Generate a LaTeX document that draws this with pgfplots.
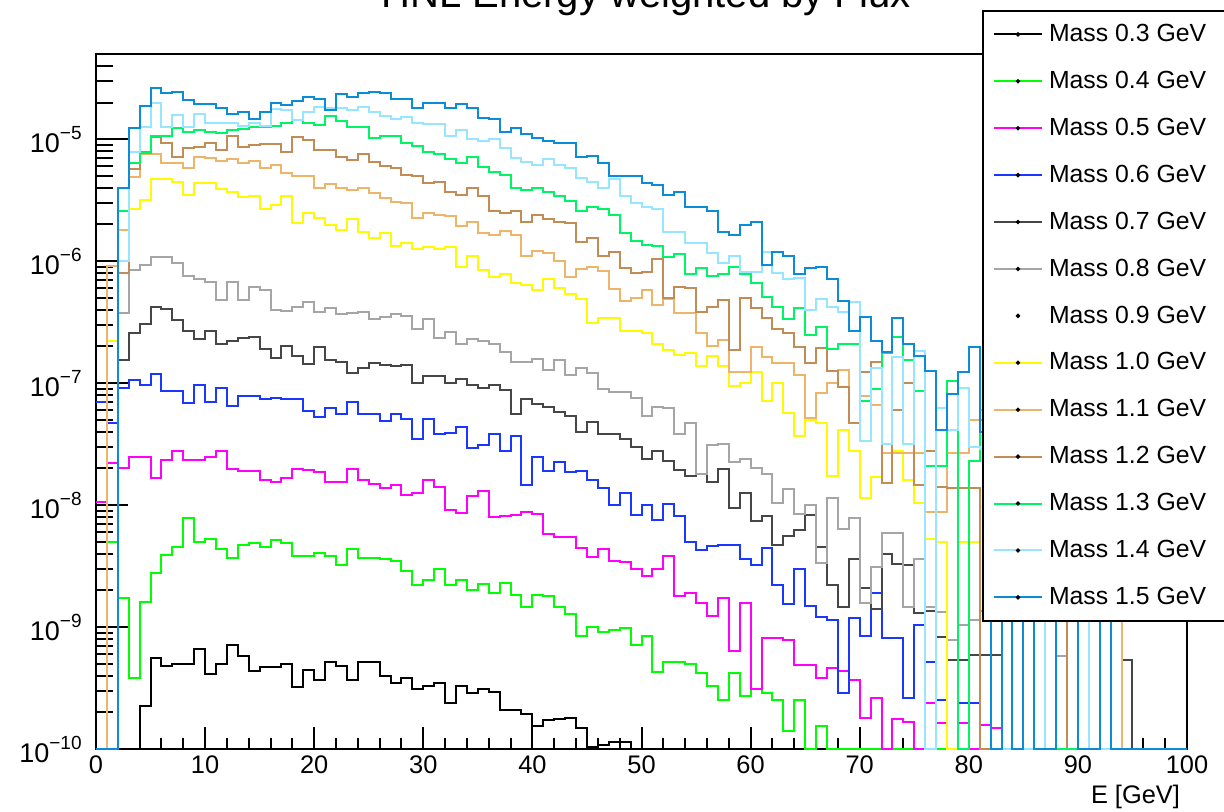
\documentclass[border=0pt]{standalone}
\usepackage{pgfplots}
\usepackage{pgfplotstable}
\pgfplotsset{compat=1.18}
\usepackage{fontspec}
\setmainfont{Liberation Sans}
\definecolor{c03}{RGB}{0,0,0}
\definecolor{c04}{RGB}{0,255,0}
\definecolor{c05}{RGB}{255,0,255}
\definecolor{c06}{RGB}{25,55,255}
\definecolor{c07}{RGB}{70,70,70}
\definecolor{c08}{RGB}{165,165,165}
\definecolor{c10}{RGB}{255,250,0}
\definecolor{c11}{RGB}{238,180,105}
\definecolor{c12}{RGB}{195,140,85}
\definecolor{c13}{RGB}{0,245,100}
\definecolor{c14}{RGB}{150,230,255}
\definecolor{c15}{RGB}{10,140,215}
\newcommand\tp[1]{10\raisebox{6.5pt}{\fontsize{9.5}{9.5}\selectfont −#1}}
\pgfplotstableread{
x s03 s04 s05 s06 s07 s08 s10 s11 s12 s13 s14 s15
0 1e-10 1e-10 1.06e-8 7.0e-8 1e-10 1e-10 1e-10 1e-10 1e-10 1e-10 1e-10 1e-10
1 1e-10 5.0e-9 2.2e-8 4.7e-8 1e-10 1e-10 2.2e-7 9.1e-7 1e-10 1e-10 1e-10 1e-10
2 1e-10 1.73e-9 2.0e-8 9.1e-8 1.55e-7 3.75e-7 1.8e-6 1.8e-6 8.0e-7 2.6e-6 1.0e-6 4.0e-6
3 1e-10 3.8e-10 2.5e-8 1.06e-7 2.6e-7 8.4e-7 2.7e-6 4.9e-6 5.7e-6 6.4e-6 7.8e-6 1.23e-5
4 2.25e-10 1.6e-9 2.5e-8 9.6e-8 3.05e-7 9.3e-7 3.15e-6 7.5e-6 7.8e-6 7.7e-6 1.25e-5 1.86e-5
5 5.6e-10 2.8e-9 1.67e-8 1.18e-7 4.2e-7 1.08e-6 4.7e-6 7.5e-6 1.04e-5 1.06e-5 1.97e-5 2.62e-5
6 4.8e-10 3.9e-9 2.35e-8 8.6e-8 4.05e-7 1.08e-6 4.7e-6 6.4e-6 9.3e-6 1.06e-5 1.25e-5 2.38e-5
7 5.0e-10 4.5e-9 2.8e-8 8.6e-8 3.3e-7 9.6e-7 4.45e-6 6.4e-6 7.1e-6 1.23e-5 1.57e-5 2.43e-5
8 5.0e-10 7.8e-9 2.35e-8 6.9e-8 2.7e-7 7.6e-7 3.5e-6 5.8e-6 8.4e-6 1.14e-5 1.25e-5 2.09e-5
9 6.6e-10 5.0e-9 2.35e-8 9.6e-8 2.3e-7 7.1e-7 4.4e-6 7.1e-6 8.6e-6 1.19e-5 1.6e-5 1.94e-5
10 4.1e-10 5.3e-9 2.5e-8 7.0e-8 2.7e-7 6.7e-7 4.4e-6 7.0e-6 9.3e-6 1.14e-5 1.35e-5 1.94e-5
11 5.0e-10 4.4e-9 2.8e-8 9.1e-8 2.1e-7 4.8e-7 3.9e-6 6.6e-6 8.1e-6 1.12e-5 1.35e-5 1.8e-5
12 7.1e-10 3.7e-9 1.97e-8 6.5e-8 2.2e-7 6.7e-7 3.7e-6 6.9e-6 1.06e-5 1.19e-5 1.37e-5 1.6e-5
13 5.8e-10 4.7e-9 1.9e-8 7.8e-8 2.35e-7 4.8e-7 3.35e-6 6.4e-6 8.6e-6 1.21e-5 1.28e-5 1.66e-5
14 4.35e-10 4.9e-9 1.9e-8 7.8e-8 2.4e-7 6.1e-7 3.4e-6 6.6e-6 8.9e-6 1.25e-5 1.35e-5 1.46e-5
15 4.7e-10 4.5e-9 1.6e-8 7.4e-8 1.9e-7 5.8e-7 2.7e-6 5.8e-6 9.1e-6 1.25e-5 1.28e-5 1.66e-5
16 4.7e-10 5.2e-9 1.55e-8 7.5e-8 1.6e-7 4.0e-7 2.9e-6 6.1e-6 9.1e-6 1.28e-5 1.76e-5 1.97e-5
17 5.0e-10 4.9e-9 1.67e-8 7.4e-8 2.0e-7 3.9e-7 3.4e-6 5.3e-6 7.8e-6 1.35e-5 1.73e-5 1.9e-5
18 3.2e-10 3.8e-9 1.97e-8 7.4e-8 1.67e-7 4.2e-7 2.05e-6 5.0e-6 1.04e-5 1.43e-5 1.43e-5 2.05e-5
19 4.45e-10 3.8e-9 1.93e-8 5.9e-8 1.43e-7 4.6e-7 2.5e-6 5.0e-6 9.8e-6 1.37e-5 1.66e-5 2.21e-5
20 3.7e-10 4.05e-9 1.86e-8 5.3e-8 1.97e-7 3.8e-7 2.25e-6 4.0e-6 8.1e-6 1.3e-5 1.83e-5 2.13e-5
21 5.2e-10 3.8e-9 1.55e-8 6.2e-8 1.55e-7 4.1e-7 1.97e-6 4.3e-6 8.1e-6 1.54e-5 1.8e-5 1.73e-5
22 4.8e-10 3.2e-9 1.55e-8 5.6e-8 1.5e-7 3.7e-7 1.8e-6 4.0e-6 7.1e-6 1.4e-5 1.8e-5 2.34e-5
23 3.7e-10 4.4e-9 1.97e-8 7.0e-8 1.2e-7 3.75e-7 2.2e-6 3.8e-6 6.7e-6 1.25e-5 1.73e-5 2.21e-5
24 5.2e-10 3.7e-9 1.6e-8 5.6e-8 1.33e-7 3.8e-7 1.73e-6 4.0e-6 7.5e-6 1.25e-5 1.83e-5 2.38e-5
25 5.2e-10 3.7e-9 1.5e-8 5.6e-8 1.46e-7 3.35e-7 1.55e-6 3.6e-6 6.5e-6 1.02e-5 1.66e-5 2.43e-5
26 4.0e-10 3.6e-9 1.39e-8 4.9e-8 1.4e-7 3.5e-7 1.7e-6 3.3e-6 6.0e-6 1.06e-5 1.54e-5 2.38e-5
27 3.5e-10 3.5e-9 1.46e-8 5.6e-8 1.38e-7 3.7e-7 1.33e-6 3.05e-6 5.8e-6 1.06e-5 1.46e-5 2.13e-5
28 3.8e-10 2.9e-9 1.2e-8 5.1e-8 1.4e-7 3.55e-7 1.41e-6 3.0e-6 5.1e-6 9.3e-6 1.51e-5 2.13e-5
29 3.1e-10 2.2e-9 1.25e-8 3.5e-8 1.0e-7 2.8e-7 1.25e-6 2.25e-6 5.0e-6 8.8e-6 1.35e-5 1.8e-5
30 3.3e-10 2.45e-9 1.6e-8 5.1e-8 1.14e-7 3.35e-7 1.3e-6 2.5e-6 4.4e-6 7.8e-6 1.33e-5 1.97e-5
31 3.5e-10 3.0e-9 1.41e-8 3.8e-8 1.14e-7 2.35e-7 1.25e-6 2.4e-6 4.5e-6 7.5e-6 1.33e-5 1.97e-5
32 2.4e-10 2.2e-9 9.1e-9 3.9e-8 1.0e-7 2.65e-7 1.3e-6 2.35e-6 3.7e-6 6.9e-6 1.06e-5 1.8e-5
33 3.3e-10 2.45e-9 8.6e-9 4.4e-8 1.08e-7 2.1e-7 8.9e-7 1.93e-6 3.5e-6 6.4e-6 1.19e-5 1.94e-5
34 2.9e-10 2.0e-9 1.18e-8 2.95e-8 9.6e-8 2.3e-7 1.1e-6 2.1e-6 4.0e-6 7.1e-6 1.0e-5 1.8e-5
35 3.1e-10 2.25e-9 1.3e-8 3.1e-8 9.1e-8 2.2e-7 8.4e-7 1.7e-6 3.4e-6 5.9e-6 9.6e-6 1.49e-5
36 2.95e-10 1.9e-9 8.0e-9 3.8e-8 9.6e-8 2.1e-7 7.4e-7 1.63e-6 2.6e-6 5.4e-6 1.0e-5 1.46e-5
37 2.1e-10 2.3e-9 8.1e-9 2.8e-8 8.8e-8 1.8e-7 7.8e-7 1.76e-6 2.5e-6 5.1e-6 8.4e-6 1.14e-5
38 2.1e-10 1.83e-9 8.3e-9 3.7e-8 5.6e-8 1.5e-7 6.6e-7 1.63e-6 2.6e-6 4.0e-6 7.0e-6 1.23e-5
39 1.93e-10 1.46e-9 8.8e-9 1.46e-8 7.4e-8 1.5e-7 6.4e-7 1.1e-6 2.1e-6 3.8e-6 6.5e-6 1.1e-5
40 1.55e-10 1.83e-9 8.4e-9 2.5e-8 6.7e-8 1.57e-7 5.8e-7 1.21e-6 2.4e-6 4.0e-6 6.2e-6 1.02e-5
41 1.73e-10 1.8e-9 5.8e-9 1.9e-8 6.4e-8 1.28e-7 7.1e-7 1.16e-6 2.2e-6 3.7e-6 6.9e-6 9.6e-6
42 1.76e-10 1.46e-9 5.5e-9 2.25e-8 5.8e-8 1.55e-7 6.0e-7 1.0e-6 2.1e-6 3.4e-6 6.2e-6 9.3e-6
43 1.8e-10 1.28e-9 5.5e-9 1.86e-8 5.4e-8 1.16e-7 5.4e-7 7.4e-7 2.05e-6 3.1e-6 5.8e-6 9.3e-6
44 1.49e-10 8.4e-10 4.45e-9 1.9e-8 4.0e-8 1.33e-7 4.9e-7 8.6e-7 1.44e-6 2.6e-6 4.8e-6 7.1e-6
45 1.04e-10 1.0e-9 3.75e-9 1.6e-8 4.8e-8 1.2e-7 3.1e-7 8.9e-7 1.55e-6 2.8e-6 4.5e-6 7.3e-6
46 1.08e-10 9.1e-10 4.35e-9 1.39e-8 3.8e-8 8.9e-8 3.4e-7 8.3e-7 1.1e-6 2.7e-6 4.0e-6 6.4e-6
47 1.14e-10 9.4e-10 3.5e-9 1.0e-8 3.8e-8 8.4e-8 3.4e-7 5.9e-7 1.18e-6 2.4e-6 4.7e-6 5.0e-6
48 1.14e-10 9.8e-10 3.4e-9 1.25e-8 3.5e-8 8.4e-8 2.7e-7 4.7e-7 8.8e-7 1.7e-6 3.4e-6 5.0e-6
49 1e-10 7.1e-10 3.0e-9 8.3e-9 3.0e-8 7.5e-8 2.7e-7 5.0e-7 8.0e-7 1.46e-6 3.0e-6 5.0e-6
50 1e-10 8.4e-10 2.6e-9 1.0e-8 2.4e-8 5.4e-8 2.6e-7 5.8e-7 8.1e-7 1.35e-6 2.8e-6 4.4e-6
51 1e-10 4.3e-10 3.0e-9 7.5e-9 2.8e-8 6.4e-8 2.1e-7 4.4e-7 1.04e-6 1.33e-6 2.7e-6 4.2e-6
52 1e-10 5.2e-10 3.8e-9 1.02e-8 2.3e-8 6.2e-8 1.86e-7 4.9e-7 5.0e-7 1.08e-6 1.73e-6 3.5e-6
53 1e-10 5.2e-10 1.8e-9 8.1e-9 1.93e-8 3.8e-8 1.7e-7 3.75e-7 6.1e-7 1.15e-6 1.73e-6 3.7e-6
54 1e-10 5.0e-10 1.9e-9 5.0e-9 1.73e-8 4.7e-8 1.76e-7 3.75e-7 6.0e-7 7.8e-7 1.41e-6 2.8e-6
55 1e-10 4.2e-10 1.57e-9 4.3e-9 1.8e-8 1.8e-8 1.38e-7 2.6e-7 3.8e-7 8.8e-7 1.41e-6 2.8e-6
56 1e-10 3.3e-10 1.23e-9 4.6e-9 1.55e-8 3.1e-8 1.67e-7 2.0e-7 4.2e-7 7.5e-7 1.16e-6 2.6e-6
57 1e-10 2.5e-10 1.73e-9 4.7e-9 1.97e-8 3.2e-8 1.38e-7 2.25e-7 4.8e-7 7.8e-7 9.6e-7 1.73e-6
58 1e-10 4.2e-10 6.4e-10 4.7e-9 9.4e-9 2.25e-8 9.4e-8 1.23e-7 1.86e-7 8.9e-7 1.1e-6 1.63e-6
59 1e-10 2.7e-10 1.57e-9 3.6e-9 1.25e-8 2.4e-8 1.0e-7 1.23e-7 5.0e-7 7.8e-7 8.1e-7 1.97e-6
60 1e-10 3.1e-10 3.1e-10 3.2e-9 7.4e-9 2.0e-8 1.23e-7 1.97e-7 4.1e-7 6.6e-7 8.1e-7 2.09e-6
61 1e-10 2.9e-10 8.1e-10 4.45e-9 8.1e-9 1.8e-8 7.1e-8 1.63e-7 3.4e-7 5.1e-7 1.18e-6 9.3e-7
62 1e-10 2.5e-10 8.1e-10 2.2e-9 4.7e-9 1.04e-8 1.0e-7 1.46e-7 2.8e-7 4.2e-7 8.0e-7 1.18e-6
63 1e-10 1.41e-10 7.8e-10 1.55e-9 5.6e-9 1.35e-8 5.7e-8 1.46e-7 2.6e-7 3.35e-7 7.1e-7 1.1e-6
64 1e-10 2.5e-10 4.9e-10 3.0e-9 6.2e-9 8.4e-9 3.7e-8 1.16e-7 1.97e-7 4.1e-7 7.3e-7 7.8e-7
65 1e-10 1e-10 4.9e-10 1.5e-9 8.3e-9 1.0e-8 5.0e-8 5.2e-8 1.46e-7 2.5e-7 4.0e-7 8.8e-7
66 1e-10 1.55e-10 3.8e-10 1.2e-9 4.5e-9 3.35e-9 4.7e-8 8.3e-8 1.93e-7 2.9e-7 4.9e-7 8.9e-7
67 1e-10 1e-10 4.6e-10 1.14e-9 2.2e-9 1.14e-8 1.73e-8 1.0e-7 1.25e-7 1.9e-7 4.2e-7 7.1e-7
68 1e-10 1e-10 4.4e-10 2.9e-10 1.46e-9 6.4e-9 4.1e-8 1.28e-7 9.3e-8 2.1e-7 3.8e-7 4.7e-7
69 1e-10 1e-10 3.7e-10 1.18e-9 3.6e-9 7.8e-9 2.8e-8 4.7e-8 4.7e-8 2.1e-7 4.6e-7 2.7e-7
70 1e-10 1e-10 1.8e-10 8.4e-10 2.1e-9 1.57e-9 1.14e-8 7.8e-8 1.23e-7 7.1e-8 3.35e-8 3.5e-7
71 1e-10 1e-10 2.6e-10 1.9e-9 1.4e-9 3.1e-9 1.7e-8 6.6e-8 1.49e-7 8.9e-8 1.33e-7 2.2e-7
72 1e-10 1e-10 1e-10 8.1e-10 4.0e-9 5.9e-9 2.7e-8 2.7e-8 1.52e-8 1.76e-7 3.2e-8 1.8e-7
73 1e-10 1e-10 1.76e-10 8.1e-10 3.3e-9 5.9e-9 2.8e-8 2.65e-8 6.0e-8 2.4e-7 1.63e-7 3.4e-7
74 1e-10 1e-10 1.67e-10 2.6e-10 3.25e-9 1.46e-9 1.6e-8 2.65e-8 1.0e-7 1.55e-7 3.2e-8 2.1e-7
75 1e-10 1e-10 1e-10 1.04e-9 1.3e-9 3.6e-9 1.04e-8 2.65e-8 1.46e-8 8.6e-8 1.83e-7 1.67e-7
76 1e-10 1e-10 2.4e-10 5.2e-10 1.35e-9 1.46e-9 5.3e-9 8.8e-9 2.8e-8 2.1e-8 1e-10 1.25e-7
77 1e-10 1e-10 1.63e-10 2.5e-10 8.3e-10 1.33e-9 5.0e-9 8.8e-9 1.41e-8 2.1e-8 6.2e-8 4.1e-8
78 1e-10 1e-10 1e-10 1e-10 5.4e-10 7.8e-10 1e-10 2.65e-8 1.39e-8 1.04e-7 4.1e-8 8.1e-8
79 1e-10 1e-10 1.63e-10 2.4e-10 5.4e-10 1.04e-9 5.0e-9 2.65e-8 1.39e-8 1e-10 9.1e-8 1.23e-7
80 1e-10 1e-10 1e-10 2.4e-10 5.9e-10 1.14e-9 5.0e-9 5e-8 1.39e-8 2.3e-8 3.0e-8 1.97e-7
81 1e-10 1e-10 1.57e-10 1e-10 5.9e-10 1.35e-9 9.6e-9 6e-8 1e-10 5.0e-8 2.9e-8 4.0e-8
82 1e-10 1e-10 1.5e-10 1e-10 5.9e-10 1.35e-9 3e-9 2e-8 3e-8 1e-8 1e-10 1e-10
83 1e-10 1e-10 1e-10 1e-10 3e-9 4e-9 3e-9 2e-8 3e-8 1e-8 1e-10 3e-8
84 1e-10 1e-10 1e-10 1e-10 3e-9 4e-9 3e-9 2e-8 3e-8 1e-8 1e-10 1e-10
85 1e-10 1e-10 1e-10 1e-10 3e-9 4e-9 3e-9 2e-8 3e-8 1e-8 1e-10 3e-8
86 1e-10 1e-10 1e-10 1e-10 3e-9 4e-9 3e-9 2e-8 3e-8 1e-8 1e-10 1e-10
87 1e-10 1e-10 1e-10 1e-10 3e-9 1e-10 3e-9 2e-8 3e-8 1e-10 2e-8 1e-10
88 1e-10 1e-10 1e-10 1e-10 3e-9 5.8e-10 3e-9 2e-8 3e-8 1e-10 2e-8 2e-8
89 1e-10 1e-10 1e-10 1e-10 3e-9 1e-10 1e-10 2e-8 1e-10 1e-10 2e-8 2e-8
90 1e-10 1e-10 1e-10 1e-10 3e-9 1e-10 1e-10 2e-8 1e-10 1e-10 2e-8 1e-10
91 1e-10 1e-10 1e-10 1e-10 3e-9 1e-10 1e-10 2e-8 1e-10 1e-10 1e-10 1e-10
92 1e-10 1e-10 1e-10 1e-10 3e-9 1e-10 1e-10 2e-8 1e-10 1e-10 1e-10 1e-8
93 1e-10 1e-10 1e-10 1e-10 3e-9 1e-10 1e-10 2e-8 1e-10 1e-10 1e-10 1e-10
94 1e-10 1e-10 1e-10 1e-10 5.4e-10 1e-10 1e-10 1e-10 1e-10 1e-10 1e-10 1e-10
95 1e-10 1e-10 1e-10 1e-10 1e-10 1e-10 1e-10 1e-10 1e-10 1e-10 1e-10 1e-10
96 1e-10 1e-10 1e-10 1e-10 1e-10 1e-10 1e-10 1e-10 1e-10 1e-10 1e-10 1e-10
97 1e-10 1e-10 1e-10 1e-10 1e-10 1e-10 1e-10 1e-10 1e-10 1e-10 1e-10 1e-10
98 1e-10 1e-10 1e-10 1e-10 1e-10 1e-10 1e-10 1e-10 1e-10 1e-10 1e-10 1e-10
99 1e-10 1e-10 1e-10 1e-10 1e-10 1e-10 1e-10 1e-10 1e-10 1e-10 1e-10 1e-10
100 1e-10 1e-10 1e-10 1e-10 1e-10 1e-10 1e-10 1e-10 1e-10 1e-10 1e-10 1e-10
}\data
\begin{document}
\begin{tikzpicture}
\begin{axis}[
  at={(0pt,0pt)}, anchor=south west,
  scale only axis, width=545.5pt, height=347.5pt,
  xmin=0, xmax=100, ymin=1e-10, ymax=5e-5, ymode=log,
  xtick={0,10,...,100}, minor x tick num=4,
  ytick={1e-10,1e-9,1e-8,1e-7,1e-6,1e-5},
  yticklabels={\tp{10},\tp{9},\tp{8},\tp{7},\tp{6},\tp{5}},
  minor ytick={2e-10,3e-10,4e-10,5e-10,6e-10,7e-10,8e-10,9e-10,
    2e-9,3e-9,4e-9,5e-9,6e-9,7e-9,8e-9,9e-9,
    2e-8,3e-8,4e-8,5e-8,6e-8,7e-8,8e-8,9e-8,
    2e-7,3e-7,4e-7,5e-7,6e-7,7e-7,8e-7,9e-7,
    2e-6,3e-6,4e-6,5e-6,6e-6,7e-6,8e-6,9e-6,
    2e-5,3e-5,4e-5},
  tick pos=left, tick align=inside,
  xtick style={/pgfplots/major tick length=11pt,/pgfplots/minor tick length=5.5pt,line width=1pt,black},
  ytick style={/pgfplots/major tick length=16pt,/pgfplots/minor tick length=8.5pt,line width=1pt,black},
  axis line style={line width=1pt},
  /pgf/number format/assume math mode=true,
  xticklabel style={font=\fontsize{12.7}{15}\selectfont},
  yticklabel style={font=\fontsize{13.5}{16}\selectfont, inner sep=0pt, xshift=-7pt},
  title={HNL Energy weighted by Flux},
  title style={font=\fontsize{20}{24}\selectfont, at={(axis description cs:0.504,1.049)}, anchor=base},
  xlabel={E [GeV]},
  xlabel style={font=\fontsize{12.7}{15}\selectfont, at={(axis description cs:1,0)}, anchor=base east, yshift=-27pt},
  every axis plot/.append style={const plot mark left, no markers, line width=1pt},
  legend cell align=left,
  legend image code/.code={\draw[mark repeat=2,mark phase=2,#1] plot coordinates {(0pt,0pt) (12pt,0pt) (24pt,0pt)};},
  legend image post style={mark=*, mark size=0.5pt, mark options={draw=black, fill=black}},
  legend style={at={(axis description cs:0.8121,1.0633)}, anchor=north west, draw=black, line width=1pt, fill=white,
    inner xsep=5pt, inner ysep=4.6pt, row sep=9.3pt, column sep=1pt,
    font=\fontsize{12.4}{14}\selectfont},
]
\addplot[c03] table[x=x,y=s03] {\data};
\addlegendentry{\makebox[110pt][l]{Mass 0.3 GeV}}
\addplot[c04] table[x=x,y=s04] {\data};
\addlegendentry{Mass 0.4 GeV}
\addplot[c05] table[x=x,y=s05] {\data};
\addlegendentry{Mass 0.5 GeV}
\addplot[c06] table[x=x,y=s06] {\data};
\addlegendentry{Mass 0.6 GeV}
\addplot[c07] table[x=x,y=s07] {\data};
\addlegendentry{Mass 0.7 GeV}
\addplot[c08] table[x=x,y=s08] {\data};
\addlegendentry{Mass 0.8 GeV}
\addlegendimage{white, line width=1pt}
\addlegendentry{Mass 0.9 GeV}
\addplot[c10] table[x=x,y=s10] {\data};
\addlegendentry{Mass 1.0 GeV}
\addplot[c11] table[x=x,y=s11] {\data};
\addlegendentry{Mass 1.1 GeV}
\addplot[c12] table[x=x,y=s12] {\data};
\addlegendentry{Mass 1.2 GeV}
\addplot[c13] table[x=x,y=s13] {\data};
\addlegendentry{Mass 1.3 GeV}
\addplot[c14] table[x=x,y=s14] {\data};
\addlegendentry{Mass 1.4 GeV}
\addplot[c15] table[x=x,y=s15] {\data};
\addlegendentry{Mass 1.5 GeV}
\end{axis}
\pgfresetboundingbox
\useasboundingbox (-48pt,-31.5pt) rectangle (564pt,374.5pt);
\end{tikzpicture}
\end{document}
